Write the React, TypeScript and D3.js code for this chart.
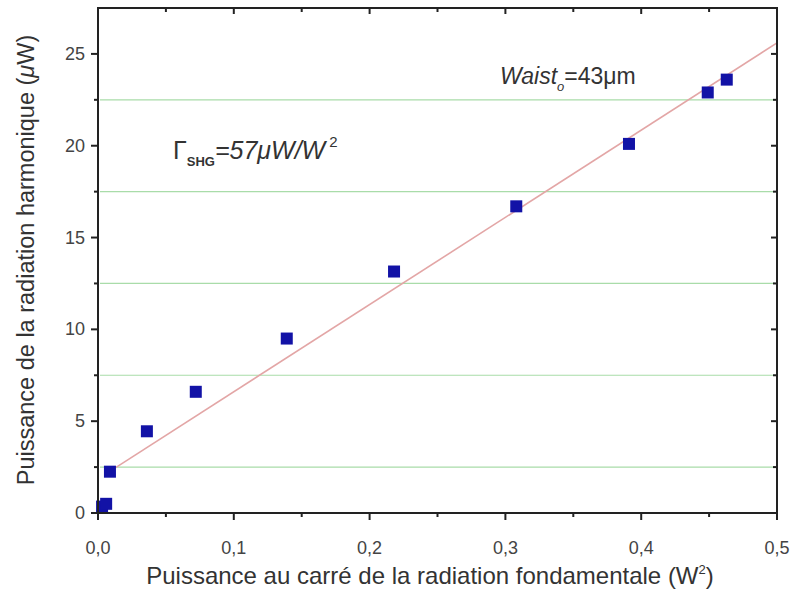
import React from "react";
import * as d3 from "d3";

const xData = [0.003, 0.006, 0.0088, 0.036, 0.072, 0.139, 0.218, 0.308, 0.391, 0.449, 0.463];
const yData = [0.35, 0.5, 2.25, 4.45, 6.6, 9.5, 13.15, 16.7, 20.1, 22.9, 23.6];
const fitSlope = 47.5;
const fitIntercept = 1.85;
const fitRange = [0.013, 0.5];
const xTicks = [0, 0.1, 0.2, 0.3, 0.4, 0.5];
const xMinor = [0.05, 0.15, 0.25, 0.35, 0.45];
const yTicks = [0, 5, 10, 15, 20, 25];
const yMinor = [2.5, 7.5, 12.5, 17.5, 22.5];

const W = 793, H = 592;
const L = 98, R = 777, T = 8, B = 513;

export default function App() {
  const x = d3.scaleLinear().domain([0, 0.5]).range([L, R]);
  const y = d3.scaleLinear().domain([0, 27.5]).range([B, T]);
  const fmt = (v: number) => v.toFixed(1).replace(".", ",");
  const line = d3.line<number>().x((d) => x(d)).y((d) => y(fitIntercept + fitSlope * d));
  const font = "'Liberation Sans', Arial, sans-serif";
  const axisColor = "#222";
  const sq = 12;
  return (
    <svg width={W} height={H} style={{ position: "absolute", left: 0, top: 0, background: "#fff" }} fontFamily={font}>
      <rect x={0} y={0} width={W} height={H} fill="#fff" />
      {/* grid */}
      {yMinor.map((v) => (
        <line key={"g" + v} x1={L + 2} x2={R - 2} y1={y(v)} y2={y(v)} stroke="#a9dca9" strokeWidth={1.2} />
      ))}
      {/* fit line */}
      <path d={line(fitRange) || ""} fill="none" stroke="#e3a6a6" strokeWidth={1.6} />
      {/* points */}
      {xData.map((v, i) => (
        <rect key={"p" + i} x={x(v) - sq / 2} y={y(yData[i]) - sq / 2} width={sq} height={sq} fill="#1212a6" />
      ))}
      {/* frame */}
      <rect x={L} y={T} width={R - L} height={B - T} fill="none" stroke={axisColor} strokeWidth={2} />
      {/* bottom ticks */}
      {xTicks.map((v) => (
        <g key={"xt" + v}>
          <line x1={x(v)} x2={x(v)} y1={B} y2={B + 7} stroke={axisColor} strokeWidth={2} />
          <line x1={x(v)} x2={x(v)} y1={T} y2={T + 6} stroke={axisColor} strokeWidth={2} />
          <text x={x(v)} y={B + 41} textAnchor="middle" fontSize={18} fill="#444">{fmt(v)}</text>
        </g>
      ))}
      {xMinor.map((v) => (
        <g key={"xm" + v}>
          <line x1={x(v)} x2={x(v)} y1={B} y2={B + 4} stroke={axisColor} strokeWidth={2} />
          <line x1={x(v)} x2={x(v)} y1={T} y2={T + 4} stroke={axisColor} strokeWidth={2} />
        </g>
      ))}
      {yTicks.map((v) => (
        <g key={"yt" + v}>
          <line x1={L - 7} x2={L} y1={y(v)} y2={y(v)} stroke={axisColor} strokeWidth={2} />
          <line x1={R - 6} x2={R} y1={y(v)} y2={y(v)} stroke={axisColor} strokeWidth={2} />
          <text x={L - 13} y={y(v) + 6} textAnchor="end" fontSize={18} fill="#444">{v}</text>
        </g>
      ))}
      {yMinor.map((v) => (
        <g key={"ym" + v}>
          <line x1={L - 4} x2={L} y1={y(v)} y2={y(v)} stroke={axisColor} strokeWidth={2} />
          <line x1={R - 4} x2={R} y1={y(v)} y2={y(v)} stroke={axisColor} strokeWidth={2} />
        </g>
      ))}
      {/* axis titles */}
      <text x={430} y={584} textAnchor="middle" fontSize={24} fill="#333">
        Puissance au carré de la radiation fondamentale (W<tspan dy={-10} fontSize={13}>2</tspan><tspan dy={10}>)</tspan>
      </text>
      <text transform={`translate(34, 260) rotate(-90)`} textAnchor="middle" fontSize={23.5} fill="#333">
        Puissance de la radiation harmonique (<tspan fontStyle="italic">μ</tspan>W)
      </text>
      {/* annotations */}
      <text x={500} y={84} fontSize={23} fill="#333">
        <tspan fontStyle="italic">Waist</tspan><tspan fontStyle="italic" fontSize={13} dy={7}>o</tspan><tspan dy={-7}>=43μm</tspan>
      </text>
      <text x={173} y={159} fontSize={25} fill="#333">
        Γ<tspan fontSize={13} fontWeight="bold" dy={7}>SHG</tspan><tspan dy={-7} fontStyle="italic">=57μW/W</tspan><tspan fontSize={15} dy={-12}> 2</tspan>
      </text>
    </svg>
  );
}
